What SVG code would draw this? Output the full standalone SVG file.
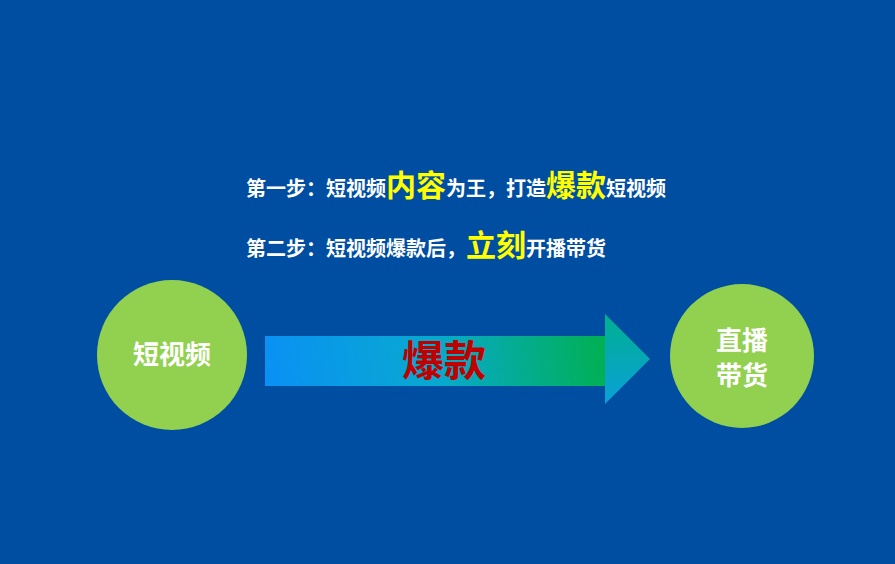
<svg xmlns="http://www.w3.org/2000/svg" width="895" height="564" viewBox="0 0 895 564">
<defs>
<linearGradient id="body" gradientUnits="userSpaceOnUse" x1="265" y1="386" x2="606" y2="336"><stop offset="0" stop-color="#0a90f5"/><stop offset="0.5" stop-color="#08a9cf"/><stop offset="1" stop-color="#00b050"/></linearGradient>
<linearGradient id="head" x1="0" y1="0" x2="0" y2="1"><stop offset="0" stop-color="#00b090"/><stop offset="1" stop-color="#0aa0d8"/></linearGradient>
<style>
text{font-family:"Noto Sans CJK SC",sans-serif;font-weight:bold}
.t{fill:#fff;font-size:20px}
.y{fill:#ffff00;font-size:30px}
.c{fill:#92d050}
.n{fill:#fff;font-size:26px;text-anchor:middle}
</style>
</defs>
<rect width="895" height="564" fill="#004ea2"/>
<g id="texts">
<text x="246" y="196" class="t">第一步：短视频<tspan class="y">内容</tspan>为王，打造<tspan class="y">爆款</tspan>短视频</text>
<text x="246" y="256" class="t">第二步：短视频爆款后，<tspan class="y">立刻</tspan>开播带货</text>
</g>
<g id="connectors">
<rect x="265" y="336" width="341" height="50" fill="url(#body)"/>
<polygon points="605,314 650,359 605,404" fill="url(#head)"/>
<text x="444" y="376" text-anchor="middle" fill="#c00000" font-size="42">爆款</text>
</g>
<g id="n1"><circle cx="172" cy="355" r="75" class="c"/><text x="172" y="364" class="n">短视频</text></g>
<g id="n2"><circle cx="742" cy="356" r="72" class="c"/><text x="742" y="350" class="n">直播</text><text x="742" y="385" class="n">带货</text></g>
</svg>
